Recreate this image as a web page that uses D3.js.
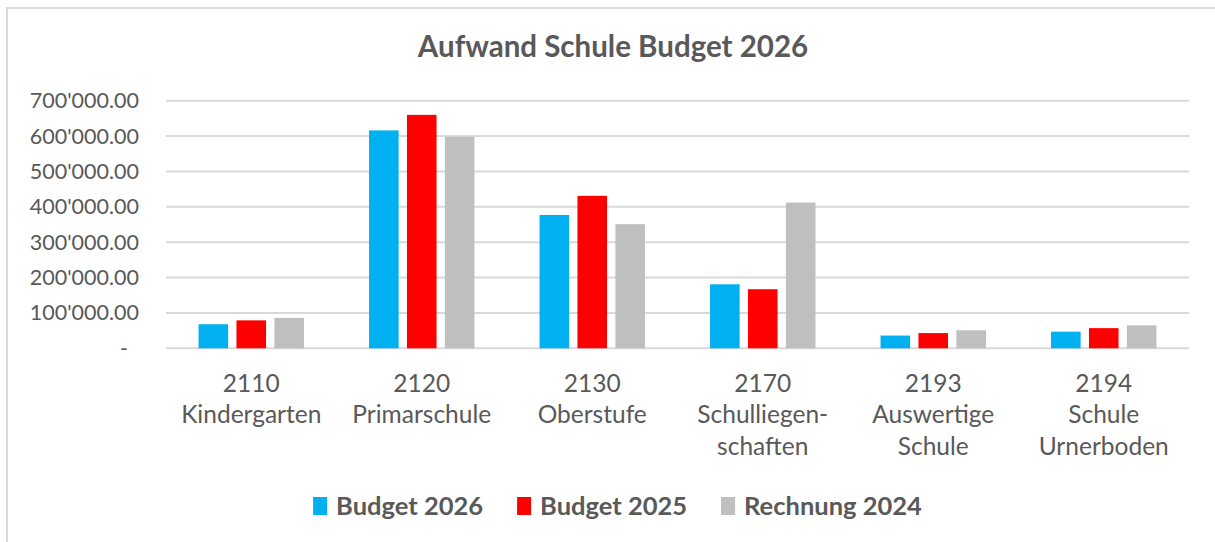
<!DOCTYPE html>
<html><head><meta charset="utf-8">
<script src="https://cdn.jsdelivr.net/npm/d3@7"></script>
<style>body{margin:0;background:#fff}svg{display:block}</style>
</head><body><svg id="c" width="1215" height="542"></svg>
<script>
const title = "Aufwand Schule Budget 2026";
const categories = [
  ["2110","Kindergarten"],
  ["2120","Primarschule"],
  ["2130","Oberstufe"],
  ["2170","Schulliegen-","schaften"],
  ["2193","Auswertige","Schule"],
  ["2194","Schule","Urnerboden"]
];
const seriesNames = ["Budget 2026","Budget 2025","Rechnung 2024"];
const budget2026 = [68000, 616000, 377000, 181000, 36000, 47000];
const budget2025 = [79000, 660000, 431000, 167000, 43000, 57000];
const rechnung2024 = [86000, 598000, 351000, 412000, 51000, 65000];
const seriesValues = [budget2026, budget2025, rechnung2024];
const colors = ["#00B0F0","#FF0000","#BFBFBF"];
const yTicks = [0,100000,200000,300000,400000,500000,600000,700000];
const yTickLabels = ["-","100'000.00","200'000.00","300'000.00","400'000.00","500'000.00","600'000.00","700'000.00"];

const svg = d3.select("#c");
const font = "Lato, 'Open Sans', sans-serif";
const txt = "#595959";

// border
svg.append("path").attr("d","M7,542 V8 H1215").attr("fill","none").attr("stroke","#d9d9d9").attr("stroke-width",2);

const L = 166, R = 1189, T = 100.7, B = 348.3;
const x0 = d3.scaleBand().domain(d3.range(categories.length)).range([L,R]).padding(0);
const y = d3.scaleLinear().domain([0,700000]).range([B,T]);
const gw = 105.4;
const x1 = d3.scaleBand().domain(d3.range(3)).range([-gw/2, gw/2]).paddingInner(0.22).paddingOuter(0);

// grid
svg.append("g").selectAll("line").data(yTicks).join("line")
  .attr("x1",L).attr("x2",R).attr("y1",d=>y(d)).attr("y2",d=>y(d))
  .attr("stroke","#d9d9d9").attr("stroke-width",2);

// y labels
svg.append("g").selectAll("text").data(yTicks).join("text")
  .attr("x",(d,i)=> i===0 ? 128 : 139).attr("y",d=>y(d)).attr("dy","0.35em")
  .attr("text-anchor","end").attr("font-family",font).attr("font-size",21.5).attr("fill",txt)
  .text((d,i)=>yTickLabels[i]);

// bars
seriesValues.forEach((vals,s)=>{
  svg.append("g").selectAll("rect").data(vals).join("rect")
    .attr("x",(d,i)=> x0(i)+x0.bandwidth()/2 + x1(s))
    .attr("width", x1.bandwidth())
    .attr("y", d=>y(d)).attr("height", d=>B-y(d))
    .attr("fill", colors[s]);
});

// category labels
const cl = svg.append("g");
categories.forEach((lines,i)=>{
  const t = cl.append("text").attr("text-anchor","middle").attr("font-family",font)
    .attr("font-size",24.5).attr("fill",txt);
  lines.forEach((ln,j)=>{
    t.append("tspan").attr("x", x0(i)+x0.bandwidth()/2).attr("y", 391.7 + j*31.6).text(ln);
  });
});

// title
svg.append("text").attr("x",613).attr("y",57.3).attr("text-anchor","middle")
  .attr("font-family",font).attr("font-weight","bold").attr("font-size",29.5).attr("fill",txt).text(title);

// legend
const lg = svg.append("g");
let cx = 0;
seriesNames.forEach((n,i)=>{
  const g = lg.append("g");
  g.append("rect").attr("x",cx).attr("y",-9).attr("width",14).attr("height",18).attr("fill",colors[i]);
  const t = g.append("text").attr("x",cx+23).attr("y",0).attr("dy","0.35em")
    .attr("font-family",font).attr("font-weight","bold").attr("font-size",25.5).attr("fill",txt).text(n);
  const w = t.node().getComputedTextLength();
  cx += 23 + w + 34;
});
const total = cx - 34;
lg.attr("transform",`translate(${617.5 - total/2},506)`);
</script></body></html>
